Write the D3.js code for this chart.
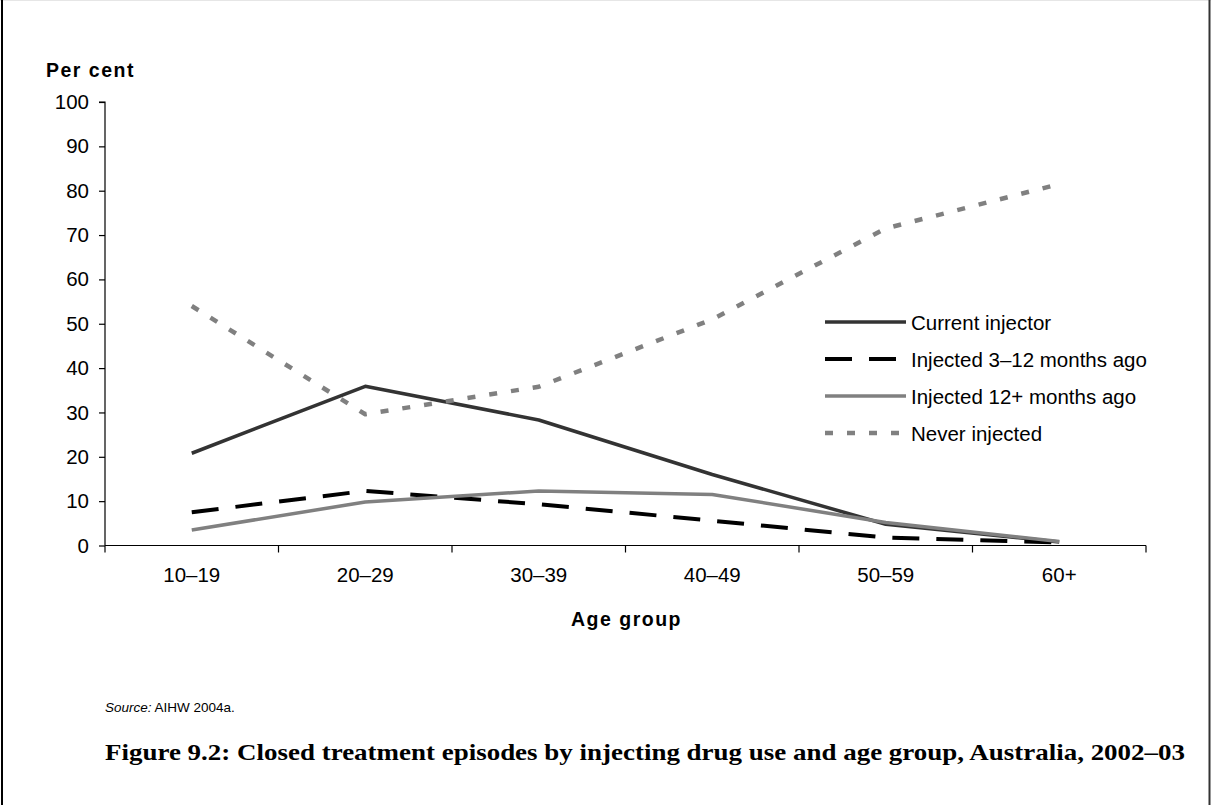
<!DOCTYPE html>
<html><head><meta charset="utf-8">
<script src="https://cdn.jsdelivr.net/npm/d3@7"></script>
<style>
html,body{margin:0;padding:0;background:#fff;}
svg{display:block;}
</style></head>
<body>
<svg id="chart" width="1211" height="805"></svg>
<script>
const categories = ["10–19","20–29","30–39","40–49","50–59","60+"];
const currentInjector = [20.8, 35.9, 28.3, 16.0, 4.8, 0.8];
const injected3to12 = [7.5, 12.3, 9.3, 5.6, 1.8, 0.7];
const injected12plus = [3.5, 9.8, 12.3, 11.5, 5.2, 0.9];
const neverInjected = [54.0, 29.6, 35.8, 51.0, 71.5, 81.5];
const yTicks = [0,10,20,30,40,50,60,70,80,90,100];
const seriesNames = ["Current injector","Injected 3–12 months ago","Injected 12+ months ago","Never injected"];

(function(){
const series = [
  {name: seriesNames[0], values: currentInjector, color:"#333333", width:3.5, dash:null},
  {name: seriesNames[1], values: injected3to12, color:"#000000", width:4, dash:"27,17"},
  {name: seriesNames[2], values: injected12plus, color:"#808080", width:3.5, dash:null},
  {name: seriesNames[3], values: neverInjected, color:"#808080", width:4.5, dash:"8,14"}
];

const svg = d3.select("#chart");
const font = "'Liberation Sans', Arial, sans-serif";
const fs = 20.5;

// frame
svg.append("line").attr("x1",0).attr("x2",1211).attr("y1",0.5).attr("y2",0.5).attr("stroke","#e6e6e6").attr("stroke-width",1);
svg.append("line").attr("x1",2).attr("x2",2).attr("y1",0).attr("y2",805).attr("stroke","#000").attr("stroke-width",2);
svg.append("line").attr("x1",1209.5).attr("x2",1209.5).attr("y1",0).attr("y2",805).attr("stroke","#333").attr("stroke-width",2);

const pL = 105, pR = 1146, pT = 102, pB = 545.5;
const x = d3.scaleBand().domain(categories).range([pL, pR]).padding(0);
const y = d3.scaleLinear().domain([0,100]).range([pB, pT]);

// y axis
const yAxis = svg.append("g").attr("transform",`translate(${pL},0)`)
  .call(d3.axisLeft(y).tickValues(yTicks).tickSize(6).tickPadding(10).tickFormat(d3.format("d")));
yAxis.select(".domain").attr("stroke","#000").attr("stroke-width",1.2).attr("d",`M-6,${pT}H0V${pB}`);
yAxis.selectAll(".tick line").attr("stroke","#000").attr("stroke-width",1.2);
yAxis.selectAll("text").attr("font-family",font).attr("font-size",fs).attr("fill","#000");

// x axis
const xAxis = svg.append("g").attr("transform",`translate(0,${pB})`)
  .call(d3.axisBottom(x).tickSize(0).tickPadding(22));
xAxis.select(".domain").attr("stroke","#000").attr("stroke-width",1.2).attr("d",`M${pL},0H${pR}`);
xAxis.selectAll("text").attr("font-family",font).attr("font-size",fs).attr("fill","#000");
const bounds = categories.map(c => x(c)).concat([pR]);
svg.append("g").selectAll("line").data(bounds).join("line")
  .attr("x1",d=>d).attr("x2",d=>d).attr("y1",pB).attr("y2",pB+7)
  .attr("stroke","#000").attr("stroke-width",1.2);

// axis titles
svg.append("text").attr("x",46).attr("y",77).text("Per cent")
  .attr("font-family",font).attr("font-weight","bold").attr("font-size",19.5).attr("letter-spacing",1.5);
svg.append("text").attr("x",(pL+pR)/2 + 1).attr("y",626).attr("text-anchor","middle").text("Age group")
  .attr("font-family",font).attr("font-weight","bold").attr("font-size",19.5).attr("letter-spacing",1.5);

// lines
const line = d3.line().x((d,i)=>x(categories[i]) + x.bandwidth()/2).y(d=>y(d));
svg.append("g").selectAll("path").data(series).join("path")
  .attr("d", d=>line(d.values))
  .attr("fill","none")
  .attr("stroke", d=>d.color)
  .attr("stroke-width", d=>d.width)
  .attr("stroke-dasharray", d=>d.dash)
  .attr("stroke-linejoin","round");

// legend
const lg = svg.append("g");
series.forEach((s,i)=>{
  const yy = 322 + i*37;
  lg.append("line").attr("x1",825).attr("x2",906).attr("y1",yy).attr("y2",yy)
    .attr("stroke",s.color).attr("stroke-width",s.width).attr("stroke-dasharray",s.dash);
  lg.append("text").attr("x",911).attr("y",yy+7.5).text(s.name)
    .attr("font-family",font).attr("font-size",fs).attr("fill","#000");
});

// source
const src = svg.append("text").attr("x",105).attr("y",712).attr("font-family",font).attr("font-size",13.5);
src.append("tspan").attr("font-style","italic").text("Source:");
src.append("tspan").text(" AIHW 2004a.");

// figure title
svg.append("text").attr("x",105).attr("y",760)
  .text("Figure 9.2: Closed treatment episodes by injecting drug use and age group, Australia, 2002–03")
  .attr("font-family","'Liberation Serif', 'DejaVu Serif', serif").attr("font-weight","bold").attr("font-size",22.5)
  .attr("textLength",1080).attr("lengthAdjust","spacingAndGlyphs");
})();
</script>
</body></html>
